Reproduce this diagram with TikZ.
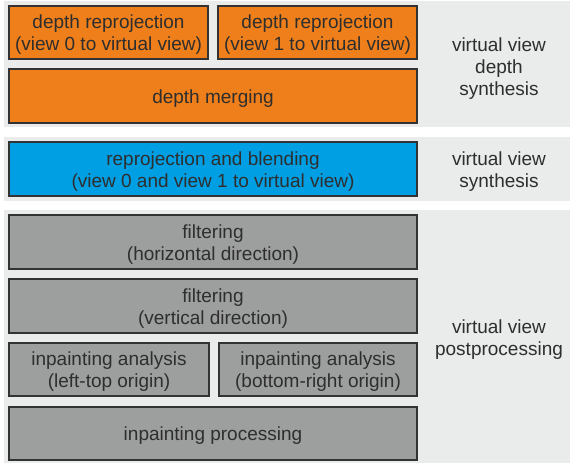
\documentclass[tikz,border=0pt]{standalone}
\usepackage{fontspec}
\setmainfont{Liberation Sans}
\definecolor{panelbg}{HTML}{EAEBEB}
\definecolor{boxline}{HTML}{333333}
\definecolor{txt}{HTML}{2E2E2E}
\definecolor{orangefill}{HTML}{EF7F1A}
\definecolor{bluefill}{HTML}{009FE3}
\definecolor{grayfill}{HTML}{9D9E9E}
\begin{document}
\begin{tikzpicture}[x=1pt,y=-1pt,
  every node/.style={font=\fontsize{19}{22}\selectfont, text=txt, align=center, inner sep=0pt},
  panel/.style={fill=panelbg, draw=none},
  procbox/.style={draw=boxline, line width=2pt, rectangle},
  orangebox/.style={procbox, fill=orangefill},
  bluebox/.style={procbox, fill=bluefill},
  graybox/.style={procbox, fill=grayfill},
  boxtext/.style={yshift=-2.5pt},
  lbl/.style={}
]
% canvas
\fill[white] (0,0) rectangle (570,463);
\useasboundingbox (0,0) rectangle (570,463);
% panels
\fill[panel] (4,1) rectangle (570,127);
\fill[panel] (4,137) rectangle (570,201);
\fill[panel] (4,210) rectangle (570,463);
% depth synthesis
\node[orangebox, minimum width=199pt, minimum height=53pt] (r0) at (108.5,32.5) {};
\node[boxtext] (r0t) at (r0) {depth reprojection\\(view 0 to virtual view)};
\node[orangebox, minimum width=199pt, minimum height=53pt] (r1) at (317.5,32.5) {};
\node[boxtext] (r1t) at (r1) {depth reprojection\\(view 1 to virtual view)};
\node[orangebox, minimum width=408pt, minimum height=54pt] (merge) at (213,96) {};
\node[boxtext] (merget) at (merge) {depth merging};
\node[lbl] (l1) at (499,68.5) {virtual view\\depth\\synthesis};
% view synthesis
\node[bluebox, minimum width=408pt, minimum height=54pt] (blend) at (213,169) {};
\node[boxtext] (blendt) at (blend) {reprojection and blending\\(view 0 and view 1 to virtual view)};
\node[lbl] (l2) at (499,172) {virtual view\\synthesis};
% postprocessing
\node[graybox, minimum width=408pt, minimum height=54pt] (f1) at (213,242) {};
\node[boxtext] (f1t) at (f1) {filtering\\(horizontal direction)};
\node[graybox, minimum width=408pt, minimum height=54pt] (f2) at (213,306) {};
\node[boxtext] (f2t) at (f2) {filtering\\(vertical direction)};
\node[graybox, minimum width=200pt, minimum height=53pt] (ia0) at (109,369.5) {};
\node[boxtext] (ia0t) at (ia0) {inpainting analysis\\(left-top origin)};
\node[graybox, minimum width=198pt, minimum height=53pt] (ia1) at (318,369.5) {};
\node[boxtext] (ia1t) at (ia1) {inpainting analysis\\(bottom-right origin)};
\node[graybox, minimum width=408pt, minimum height=53pt] (proc) at (213,433.5) {};
\node[boxtext] (proct) at (proc) {inpainting processing};
\node[lbl] (l3) at (499,339.5) {virtual view\\postprocessing};
\end{tikzpicture}
\end{document}
